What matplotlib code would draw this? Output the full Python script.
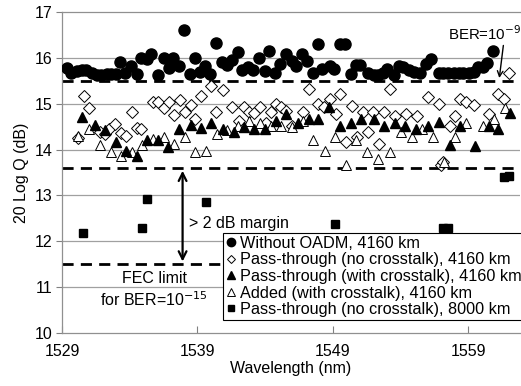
import matplotlib
matplotlib.use("Agg")
import matplotlib.pyplot as plt

plt.rcParams['font.family'] = ['Liberation Sans', 'DejaVu Sans']

# Without OADM, 4160 km (filled circles)
wl_circ = [1529.4, 1529.7, 1530.1, 1530.45, 1530.8, 1531.2, 1531.55, 1531.9, 1532.3, 1532.65,
           1532.95, 1533.3, 1533.65, 1534.1, 1534.5, 1534.85, 1535.25, 1535.6, 1536.1, 1536.5,
           1536.9, 1537.2, 1537.6, 1538.0, 1538.45, 1538.8, 1539.2, 1539.55, 1539.95, 1540.4,
           1540.8, 1541.2, 1541.55, 1542.0, 1542.3, 1542.7, 1543.1, 1543.55, 1543.95, 1544.3,
           1544.7, 1545.1, 1545.5, 1546.0, 1546.3, 1546.7, 1547.1, 1547.5, 1547.9, 1548.2,
           1548.75, 1549.1, 1549.5, 1549.9, 1550.3, 1550.7, 1551.0, 1551.6, 1552.0, 1552.3,
           1552.7, 1553.0, 1553.5, 1553.85, 1554.2, 1554.6, 1555.0, 1555.45, 1555.85, 1556.25,
           1556.8, 1557.15, 1557.5, 1557.9, 1558.3, 1558.6, 1559.05, 1559.4, 1559.7, 1560.1,
           1560.4, 1560.8]
q_circ = [15.77, 15.66, 15.72, 15.73, 15.73, 15.66, 15.63, 15.63, 15.65, 15.65,
          15.65, 15.92, 15.66, 15.83, 15.65, 15.99, 15.97, 16.09, 15.62, 16.00,
          15.77, 15.99, 15.82, 16.60, 15.65, 15.99, 15.70, 15.83, 15.65, 16.33,
          15.91, 15.84, 15.95, 16.13, 15.73, 15.79, 15.73, 16.00, 15.71, 16.15,
          15.68, 15.86, 16.08, 15.93, 15.83, 16.09, 15.93, 15.66, 16.31, 15.75,
          15.83, 15.75, 16.30, 16.31, 15.65, 15.84, 15.84, 15.66, 15.63, 15.63,
          15.68, 15.75, 15.63, 15.83, 15.79, 15.73, 15.70, 15.66, 15.86, 15.97,
          15.68, 15.66, 15.66, 15.66, 15.66, 15.68, 15.68, 15.70, 15.79, 15.79,
          15.88, 16.15]

# Pass-through (no crosstalk), 4160 km (open diamonds)
wl_diam = [1530.2, 1530.6, 1531.0, 1531.8, 1532.2, 1532.5, 1532.9, 1533.35, 1533.75, 1534.2,
           1534.5, 1534.85, 1535.7, 1536.1, 1536.5, 1536.9, 1537.3, 1537.7, 1538.1, 1538.5,
           1538.85, 1539.25, 1540.0, 1540.4, 1540.85, 1541.55, 1542.05, 1542.45, 1542.8, 1543.2,
           1543.6, 1544.05, 1544.4, 1544.8, 1545.15, 1545.55, 1545.95, 1546.8, 1547.2, 1547.9,
           1548.35, 1548.8, 1549.2, 1549.5, 1549.95, 1550.4, 1550.75, 1551.2, 1551.6, 1551.95,
           1552.4, 1552.8, 1553.2, 1553.6, 1554.4, 1555.2, 1556.0, 1556.8, 1557.0, 1557.1,
           1557.6, 1558.0, 1558.4, 1558.8, 1559.4, 1560.5, 1561.2, 1561.6, 1562.0]
q_diam = [14.25, 15.16, 14.91, 14.38, 14.34, 14.45, 14.56, 14.37, 14.30, 14.83,
          14.48, 14.45, 15.03, 15.04, 14.91, 15.03, 14.75, 15.08, 14.82, 14.97,
          14.67, 15.16, 15.38, 14.83, 15.29, 14.92, 14.63, 14.92, 14.81, 14.80,
          14.92, 14.59, 14.82, 15.00, 14.92, 14.85, 14.52, 14.83, 15.32, 15.00,
          14.92, 15.11, 14.78, 15.21, 14.16, 14.96, 14.27, 14.81, 14.39, 14.83,
          14.12, 14.83, 15.32, 14.74, 14.78, 14.74, 15.15, 14.99, 13.66, 13.74,
          14.52, 14.74, 15.10, 15.04, 14.97, 14.78, 15.22, 15.10, 15.66]

# Pass-through (with crosstalk), 4160 km (filled triangles)
wl_tri = [1530.5, 1531.4, 1532.2, 1532.95, 1533.75, 1534.5, 1535.3, 1536.1, 1536.8, 1537.6,
          1538.5, 1539.25, 1540.0, 1540.85, 1541.7, 1542.45, 1543.2, 1543.95, 1544.8, 1545.55,
          1546.4, 1547.2, 1547.9, 1548.7, 1549.5, 1550.3, 1551.1, 1552.0, 1552.75, 1553.55,
          1554.3, 1555.1, 1556.0, 1556.85, 1557.6, 1558.4, 1559.45, 1560.55, 1561.2, 1562.05]
q_tri = [14.72, 14.54, 14.43, 14.16, 13.98, 13.85, 14.21, 14.21, 14.05, 14.45,
         14.54, 14.47, 14.58, 14.45, 14.38, 14.50, 14.44, 14.45, 14.62, 14.77,
         14.59, 14.67, 14.67, 14.93, 14.52, 14.59, 14.67, 14.67, 14.52, 14.59,
         14.52, 14.45, 14.52, 14.61, 14.09, 14.52, 14.07, 14.52, 14.45, 14.79]

# Added (with crosstalk), 4160 km (open triangles)
wl_otri = [1530.2, 1531.0, 1531.8, 1532.6, 1533.35, 1534.2, 1534.9, 1535.7, 1536.5, 1537.3,
           1538.05, 1538.85, 1539.6, 1540.45, 1541.2, 1542.0, 1542.8, 1543.6, 1544.4, 1545.2,
           1546.0, 1546.8, 1547.55, 1548.4, 1549.15, 1549.95, 1550.7, 1551.5, 1552.3, 1553.2,
           1554.0, 1554.8, 1555.6, 1556.4, 1557.2, 1558.0, 1558.8, 1560.05, 1560.9, 1561.7]
q_otri = [14.30, 14.45, 14.09, 13.94, 13.87, 13.94, 14.09, 14.23, 14.27, 14.12,
          14.27, 13.95, 13.96, 14.35, 14.43, 14.52, 14.63, 14.59, 14.52, 14.51,
          14.49, 14.63, 14.20, 13.96, 14.28, 13.67, 14.21, 13.94, 13.80, 13.94,
          14.38, 14.27, 14.45, 14.27, 13.72, 14.27, 14.59, 14.52, 14.67, 14.91]

# Pass-through (no crosstalk), 8000 km (filled squares)
wl_sq = [1530.55, 1534.9, 1535.3, 1539.6, 1549.15, 1557.15, 1557.5, 1561.65, 1562.0]
q_sq = [12.18, 12.29, 12.93, 12.85, 12.37, 12.29, 12.29, 13.40, 13.43]

labels = ["Without OADM, 4160 km",
          "Pass-through (no crosstalk), 4160 km",
          "Pass-through (with crosstalk), 4160 km",
          "Added (with crosstalk), 4160 km",
          "Pass-through (no crosstalk), 8000 km"]

dashed_levels = [15.5, 13.6, 11.5]
xticks = [1529, 1539, 1549, 1559]
yticks = [10, 11, 12, 13, 14, 15, 16, 17]

fig = plt.figure(figsize=(5.21, 3.86), dpi=100)
ax = fig.add_axes([0.119, 0.137, 0.879, 0.832])

for y in yticks[1:-1]:
    ax.axhline(y, color='#a0a0a0', lw=0.9, zorder=0)
for y in dashed_levels:
    ax.axhline(y, color='black', lw=2.0, dashes=(4, 2.6), zorder=1)

h1, = ax.plot(wl_circ, q_circ, 'o', color='black', ms=8.0, ls='none', zorder=3)
h2, = ax.plot(wl_diam, q_diam, 'D', mfc='white', mec='black', mew=0.7, ms=5.8, ls='none', zorder=3)
h4, = ax.plot(wl_otri, q_otri, '^', mfc='white', mec='black', mew=0.7, ms=7.5, ls='none', zorder=3)
h3, = ax.plot(wl_tri, q_tri, '^', color='black', ms=7.5, ls='none', zorder=4)
h5, = ax.plot(wl_sq, q_sq, 's', color='black', ms=5.5, ls='none', zorder=3)

ax.set_xlim(1529, 1562.8)
ax.set_ylim(10, 17)
ax.set_xticks(xticks)
ax.set_yticks(yticks)
ax.tick_params(axis='x', direction='in', length=5, labelsize=11.5, pad=8, color='#808080')
ax.tick_params(axis='y', direction='out', length=4, labelsize=11.5, pad=3, color='#808080')
for s in ['left', 'bottom', 'top']:
    ax.spines[s].set_color('#909090')
    ax.spines[s].set_linewidth(0.9)
ax.spines['right'].set_visible(False)

ax.set_xlabel("Wavelength (nm)", fontsize=11.5, labelpad=1)
ax.set_ylabel("20 Log Q (dB)", fontsize=11.5, labelpad=4)

# Annotations
ax.text(1557.5, 16.52, "BER=10$^{-9}$", fontsize=10.8, va='center', ha='left')
ax.annotate("", xy=(1561.25, 15.5), xytext=(1561.6, 16.33),
            arrowprops=dict(arrowstyle='->', color='black', lw=1.0))
ax.annotate("", xy=(1537.9, 11.5), xytext=(1537.9, 13.6),
            arrowprops=dict(arrowstyle='<->', color='black', lw=1.6, mutation_scale=14))
ax.text(1538.4, 12.4, "> 2 dB margin", fontsize=11.5, va='center', ha='left')
ax.text(1535.8, 11.2, "FEC limit", fontsize=11.5, va='center', ha='center')
ax.text(1535.8, 10.72, "for BER=10$^{-15}$", fontsize=11.5, va='center', ha='center')

leg = ax.legend([h1, h2, h3, h4, h5], labels, loc='upper left',
                bbox_to_anchor=(0.352, 0.311), borderaxespad=0, fontsize=11.7,
                frameon=True, fancybox=False, framealpha=1, edgecolor='black',
                handlelength=0.6, handletextpad=0.3, labelspacing=0.1,
                borderpad=0.15, markerscale=0.75)
leg.get_frame().set_linewidth(0.8)
leg.set_zorder(10)

fig.savefig("out.png", dpi=100)
